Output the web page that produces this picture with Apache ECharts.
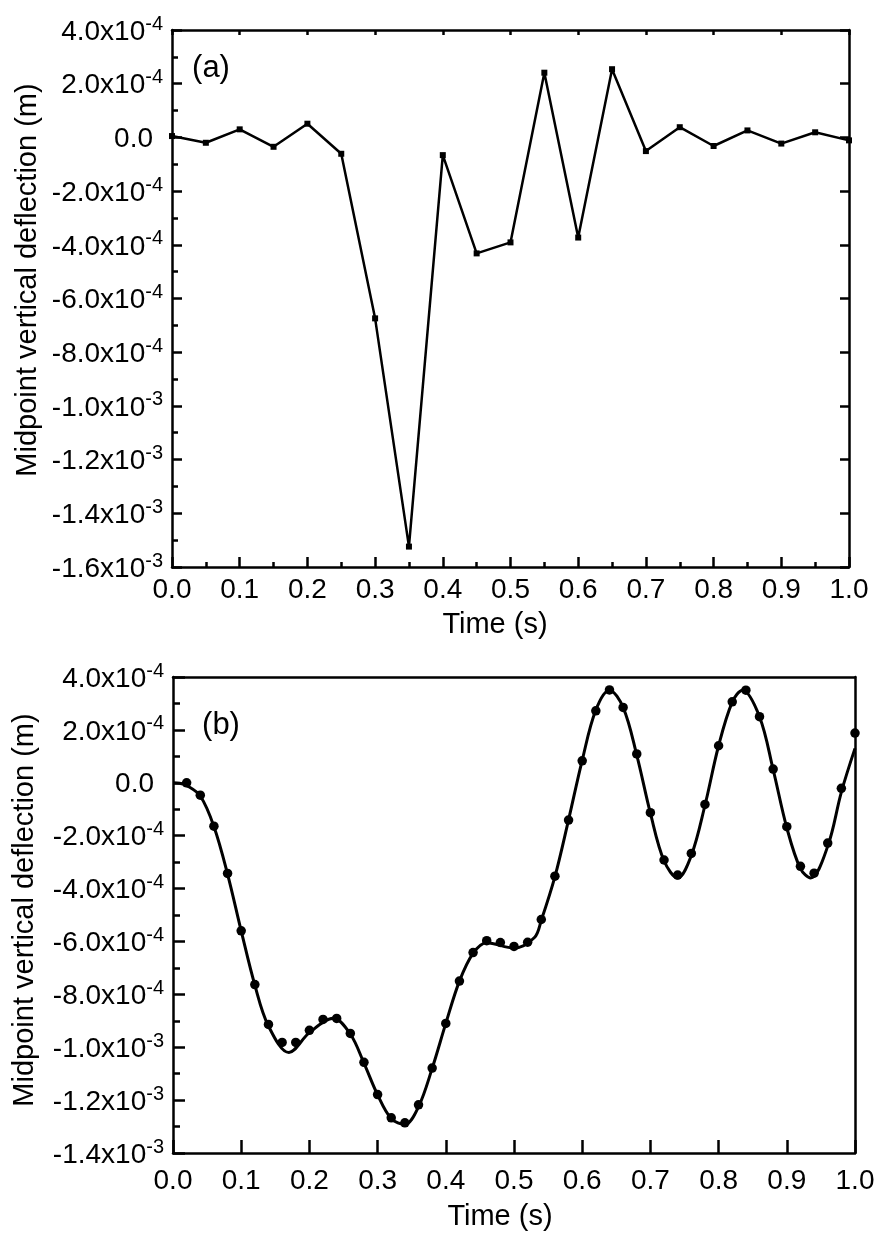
<!DOCTYPE html>
<html>
<head>
<meta charset="utf-8">
<script src="https://cdn.jsdelivr.net/npm/echarts@6/dist/echarts.min.js"></script>
<style>html,body{margin:0;padding:0;background:#fff;}#c{width:888px;height:1243px;}</style>
</head>
<body>
<div id="c"></div>
<script>
// ---------- DATA ----------
const SCALE = 1e-4; // values below are in units of 1e-4 m
// Panel (a)
const timeA = [0.00,0.05,0.10,0.15,0.20,0.25,0.30,0.35,0.40,0.45,0.50,0.55,0.60,0.65,0.70,0.75,0.80,0.85,0.90,0.95,1.00];
const deflA = [0.05,-0.20,0.30,-0.35,0.51,-0.61,-6.74,-15.24,-0.66,-4.32,-3.91,2.41,-3.73,2.54,-0.51,0.38,-0.32,0.26,-0.23,0.19,-0.11];
// Panel (b) - solid curve
const timeCurveB = [0,0.01,0.02,0.04,0.06,0.08,0.10,0.12,0.14,0.17,0.20,0.235,0.26,0.28,0.30,0.32,0.34,0.36,0.38,0.40,0.42,0.44,0.46,0.50,0.53,0.54,0.56,0.58,0.60,0.62,0.64,0.66,0.68,0.70,0.72,0.74,0.76,0.78,0.80,0.82,0.835,0.86,0.88,0.90,0.92,0.935,0.96,0.98,1.00];
const deflCurveB = [0.0,-0.02,-0.1,-0.5,-1.65,-3.45,-5.6,-7.65,-9.2,-10.2,-9.45,-8.9,-9.5,-10.6,-11.8,-12.7,-12.92,-12.25,-10.8,-9.1,-7.5,-6.45,-6.05,-6.25,-5.85,-5.2,-3.55,-1.4,0.85,2.75,3.5,2.85,1.05,-1.15,-2.95,-3.6,-2.75,-0.85,1.4,3.05,3.5,2.5,0.5,-1.7,-3.25,-3.6,-2.4,-0.35,1.3];
// Panel (b) - dots
const timeDotsB = [0.02,0.04,0.06,0.08,0.10,0.12,0.14,0.16,0.18,0.20,0.22,0.24,0.26,0.28,0.30,0.32,0.34,0.36,0.38,0.40,0.42,0.44,0.46,0.48,0.50,0.52,0.54,0.56,0.58,0.60,0.62,0.64,0.66,0.68,0.70,0.72,0.74,0.76,0.78,0.80,0.82,0.84,0.86,0.88,0.90,0.92,0.94,0.96,0.98,1.00];
const deflDotsB = [0.0,-0.47,-1.64,-3.43,-5.60,-7.63,-9.14,-9.82,-9.82,-9.36,-8.95,-8.91,-9.48,-10.57,-11.79,-12.67,-12.86,-12.18,-10.79,-9.10,-7.50,-6.42,-5.97,-6.04,-6.19,-6.03,-5.17,-3.53,-1.41,0.83,2.72,3.51,2.85,1.09,-1.13,-2.92,-3.49,-2.67,-0.82,1.40,3.06,3.50,2.50,0.52,-1.66,-3.16,-3.42,-2.28,-0.21,1.88];
// Tick labels
const xTickLabels = ['0.0','0.1','0.2','0.3','0.4','0.5','0.6','0.7','0.8','0.9','1.0'];
const yTickLabelsA = [['4.0','-4'],['2.0','-4'],['0.0',''],['-2.0','-4'],['-4.0','-4'],['-6.0','-4'],['-8.0','-4'],['-1.0','-3'],['-1.2','-3'],['-1.4','-3'],['-1.6','-3']];
const yTickLabelsB = [['4.0','-4'],['2.0','-4'],['0.0',''],['-2.0','-4'],['-4.0','-4'],['-6.0','-4'],['-8.0','-4'],['-1.0','-3'],['-1.2','-3'],['-1.4','-3']];
const axisTitleX = 'Time (s)';
const axisTitleY = 'Midpoint vertical deflection (m)';

// ---------- CHART ----------
const FONT = 'Liberation Sans, Arial, sans-serif';
const BLACK = '#000';
const yMaxA = 4e-4, yMinA = -1.6e-3, yMaxB = 4e-4, yMinB = -1.4e-3, yStep = 2e-4;

function yFmt(labels, yMax) {
  return function (v) {
    const i = Math.round((yMax - v) / yStep);
    const l = labels[i];
    if (!l) return '';
    return l[1] ? '{m|' + l[0] + 'x10}{e|' + l[1] + '}' : '{m|' + l[0] + '}{p| }';
  };
}
function xFmt(v) { return xTickLabels[Math.round(v * 10)] || ''; }

const richY = {
  m: { fontSize: 28, fontFamily: FONT, color: BLACK, verticalAlign: 'bottom', lineHeight: 32 },
  e: { fontSize: 20, fontFamily: FONT, color: BLACK, verticalAlign: 'top', lineHeight: 22 },
  p: { width: 10, fontSize: 10 }
};
const lineBlack = { color: BLACK, width: 2.5 };

function xAxisBottom(g, tickLen, minor, margin) {
  return {
    gridIndex: g, type: 'value', position: 'bottom', min: 0, max: 1, interval: 0.1,
    axisLine: { show: true, onZero: false, lineStyle: lineBlack },
    axisTick: { show: true, inside: true, length: tickLen, lineStyle: lineBlack },
    minorTick: { show: minor, splitNumber: 2, length: 5, lineStyle: lineBlack },
    splitLine: { show: false }, minorSplitLine: { show: false },
    axisLabel: { margin: margin, fontSize: 28, fontFamily: FONT, color: BLACK, formatter: xFmt, showMinLabel: true, showMaxLabel: true }
  };
}
function xAxisTop(g, ticks) {
  return {
    gridIndex: g, type: 'value', position: 'top', min: 0, max: 1, interval: 0.1,
    axisLine: { show: true, onZero: false, lineStyle: lineBlack },
    axisTick: { show: ticks, inside: true, length: 5, lineStyle: lineBlack },
    splitLine: { show: false }, axisLabel: { show: false }
  };
}
function yAxisLeft(g, yMin, yMax, labels, tickLen, minorLen) {
  return {
    gridIndex: g, type: 'value', position: 'left', min: yMin, max: yMax, interval: yStep,
    axisLine: { show: true, onZero: false, lineStyle: lineBlack },
    axisTick: { show: true, inside: true, length: tickLen, lineStyle: lineBlack },
    minorTick: { show: true, splitNumber: 2, length: minorLen, lineStyle: lineBlack },
    splitLine: { show: false }, minorSplitLine: { show: false },
    axisLabel: { margin: 9, formatter: yFmt(labels, yMax), rich: richY, showMinLabel: true, showMaxLabel: true }
  };
}
function yAxisRight(g, yMin, yMax, ticks) {
  return {
    gridIndex: g, type: 'value', position: 'right', min: yMin, max: yMax, interval: yStep,
    axisLine: { show: true, onZero: false, lineStyle: lineBlack },
    axisTick: { show: ticks, inside: true, length: 9, lineStyle: lineBlack },
    splitLine: { show: false }, axisLabel: { show: false }
  };
}

const chart = echarts.init(document.getElementById('c'), null, { renderer: 'canvas' });
const option = {
  backgroundColor: '#fff',
  animation: false,
  grid: [
    { left: 172, top: 30, width: 677, height: 537, containLabel: false, outerBoundsMode: 'none' },
    { left: 173, top: 677, width: 682, height: 476, containLabel: false, outerBoundsMode: 'none' }
  ],
  xAxis: [xAxisBottom(0, 10, true, 9), xAxisTop(0, true), xAxisBottom(1, 13, false, 14), xAxisTop(1, false)],
  yAxis: [yAxisLeft(0, yMinA, yMaxA, yTickLabelsA, 10, 6), yAxisRight(0, yMinA, yMaxA, true),
          yAxisLeft(1, yMinB, yMaxB, yTickLabelsB, 12, 7), yAxisRight(1, yMinB, yMaxB, false)],
  series: [
    {
      type: 'line', xAxisIndex: 0, yAxisIndex: 0,
      data: timeA.map((t, i) => [t, deflA[i] * SCALE]),
      symbol: 'rect', symbolSize: 6, showSymbol: true,
      lineStyle: { color: BLACK, width: 2.5 }, itemStyle: { color: BLACK }, z: 3
    },
    {
      type: 'line', xAxisIndex: 2, yAxisIndex: 2,
      data: timeCurveB.map((t, i) => [t, deflCurveB[i] * SCALE]),
      smooth: 0.35, showSymbol: false, symbol: 'none',
      lineStyle: { color: BLACK, width: 3 }, z: 3
    },
    {
      type: 'scatter', xAxisIndex: 2, yAxisIndex: 2,
      data: timeDotsB.map((t, i) => [t, deflDotsB[i] * SCALE]),
      symbol: 'circle', symbolSize: 9.5, itemStyle: { color: BLACK, opacity: 1 }, z: 4
    }
  ],
  graphic: [
    { type: 'text', x: 211, y: 68, style: { text: '(a)', font: '31px ' + FONT, fill: BLACK, align: 'center', verticalAlign: 'middle' } },
    { type: 'text', x: 221, y: 725, style: { text: '(b)', font: '31px ' + FONT, fill: BLACK, align: 'center', verticalAlign: 'middle' } },
    { type: 'text', x: 495, y: 625, style: { text: axisTitleX, font: '29px ' + FONT, fill: BLACK, align: 'center', verticalAlign: 'middle' } },
    { type: 'text', x: 500, y: 1217, style: { text: axisTitleX, font: '29px ' + FONT, fill: BLACK, align: 'center', verticalAlign: 'middle' } },
    { type: 'text', x: 28, y: 280, rotation: Math.PI / 2, style: { text: axisTitleY, font: '29px ' + FONT, fill: BLACK, align: 'center', verticalAlign: 'middle' } },
    { type: 'text', x: 25, y: 910, rotation: Math.PI / 2, style: { text: axisTitleY, font: '29px ' + FONT, fill: BLACK, align: 'center', verticalAlign: 'middle' } }
  ]
};
chart.setOption(option);
</script>
</body>
</html>
